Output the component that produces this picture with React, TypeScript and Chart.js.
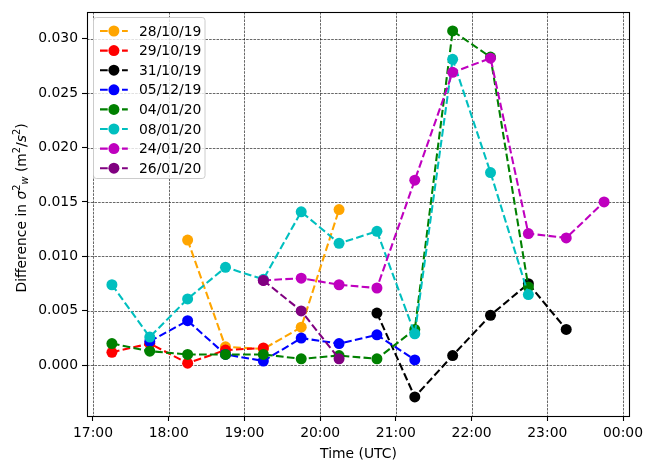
import React, { useEffect, useRef } from 'react';
import { Chart, registerables } from 'chart.js';

Chart.register(...registerables);

// Times of the measurements, in hours (UTC)
const hours = [17.25, 17.75, 18.25, 18.75, 19.25, 19.75, 20.25, 20.75, 21.25, 21.75, 22.25, 22.75, 23.25, 23.75];

const seriesLabels = ['28/10/19', '29/10/19', '31/10/19', '05/12/19', '04/01/20', '08/01/20', '24/01/20', '26/01/20'];
const seriesColors = ['#FFA500', '#FF0000', '#000000', '#0000FF', '#008000', '#00BFBF', '#BF00BF', '#800080'];

// values aligned with `hours` (null = no measurement)
const s281019 = [null, null, 0.0115, 0.0017, 0.0015, 0.0035, 0.0143, null, null, null, null, null, null, null];
const s291019 = [0.0012, 0.0020, 0.0002, 0.0014, 0.0016, null, null, null, null, null, null, null, null, null];
const s311019 = [null, null, null, null, null, null, null, 0.0048, -0.0029, 0.0009, 0.0046, 0.0075, 0.0033, null];
const s051219 = [null, 0.0022, 0.0041, 0.0010, 0.0004, 0.0025, 0.0020, 0.0028, 0.0005, null, null, null, null, null];
const s040120 = [0.0020, 0.0013, 0.0010, 0.0010, 0.0010, 0.0006, 0.0009, 0.0006, 0.0033, 0.0307, 0.0283, 0.0072, null, null];
const s080120 = [0.0074, 0.0026, 0.0061, 0.0090, 0.0079, 0.0141, 0.0112, 0.0123, 0.0029, 0.0281, 0.0177, 0.0065, null, null];
const s240120 = [null, null, null, null, 0.0078, 0.0080, 0.0074, 0.0071, 0.0170, 0.0269, 0.0282, 0.0121, 0.0117, 0.0150];
const s260120 = [null, null, null, null, 0.0078, 0.0050, 0.0006, null, null, null, null, null, null, null];

const seriesValues = [s281019, s291019, s311019, s051219, s040120, s080120, s240120, s260120];

const xTickValues = [17, 18, 19, 20, 21, 22, 23, 24];
const xTickLabels = ['17:00', '18:00', '19:00', '20:00', '21:00', '22:00', '23:00', '00:00'];
const yTickValues = [0, 0.005, 0.01, 0.015, 0.02, 0.025, 0.03];
const yTickLabels = ['0.000', '0.005', '0.010', '0.015', '0.020', '0.025', '0.030'];

const FONT = '"DejaVu Sans"';
const FS = 13.9;
const LW = 2.08;
const DASH = [7.7, 3.3];

const overlay = {
  id: 'mplOverlay',
  beforeDatasetsDraw(chart: any) {
    const { ctx, chartArea: a, scales } = chart;
    const xs = scales.x, ys = scales.y;
    ctx.save();
    ctx.strokeStyle = 'rgba(0,0,0,0.85)';
    ctx.lineWidth = 0.7;
    ctx.setLineDash([2.6, 1.1]);
    for (const v of xTickValues) {
      const px = Math.round(xs.getPixelForValue(v)) + 0.5;
      ctx.beginPath();
      ctx.moveTo(px, a.top);
      ctx.lineTo(px, a.bottom);
      ctx.stroke();
    }
    for (const v of yTickValues) {
      const py = Math.round(ys.getPixelForValue(v)) + 0.5;
      ctx.beginPath();
      ctx.moveTo(a.left, py);
      ctx.lineTo(a.right, py);
      ctx.stroke();
    }
    ctx.restore();
  },
  afterDatasetsDraw(chart: any) {
    const { ctx, chartArea: a } = chart;
    ctx.save();
    // frame
    ctx.strokeStyle = '#000';
    ctx.lineWidth = 1.1;
    ctx.setLineDash([]);
    ctx.strokeRect(a.left + 0.5, a.top + 0.5, a.right - a.left, a.bottom - a.top);

    // legend
    const bx = 93.5, by = 17.5, bw = 111.5, bh = 161;
    const r = 2.8;
    ctx.beginPath();
    ctx.moveTo(bx + r, by);
    ctx.lineTo(bx + bw - r, by);
    ctx.quadraticCurveTo(bx + bw, by, bx + bw, by + r);
    ctx.lineTo(bx + bw, by + bh - r);
    ctx.quadraticCurveTo(bx + bw, by + bh, bx + bw - r, by + bh);
    ctx.lineTo(bx + r, by + bh);
    ctx.quadraticCurveTo(bx, by + bh, bx, by + bh - r);
    ctx.lineTo(bx, by + r);
    ctx.quadraticCurveTo(bx, by, bx + r, by);
    ctx.closePath();
    ctx.fillStyle = 'rgba(255,255,255,0.8)';
    ctx.fill();
    ctx.strokeStyle = '#cccccc';
    ctx.lineWidth = 1;
    ctx.stroke();

    ctx.font = `${FS}px ${FONT}`;
    ctx.textBaseline = 'middle';
    ctx.textAlign = 'left';
    for (let i = 0; i < seriesLabels.length; i++) {
      const cy = 31 + i * 19.6;
      const hx0 = 100, hx1 = 127.8;
      ctx.strokeStyle = seriesColors[i];
      ctx.lineWidth = LW;
      ctx.setLineDash(DASH);
      ctx.beginPath();
      ctx.moveTo(hx0, cy);
      ctx.lineTo(hx1, cy);
      ctx.stroke();
      ctx.setLineDash([]);
      ctx.fillStyle = seriesColors[i];
      ctx.beginPath();
      ctx.arc((hx0 + hx1) / 2, cy, 5.5, 0, Math.PI * 2);
      ctx.fill();
      ctx.fillStyle = '#000';
      ctx.fillText(seriesLabels[i], 139, cy + 1);
    }

    // x title
    ctx.textAlign = 'center';
    ctx.textBaseline = 'alphabetic';
    ctx.fillText('Time (UTC)', (a.left + a.right) / 2 + 0.5, 457.5);

    // y title with super/subscripts
    const reg = `${FS}px ${FONT}`;
    const ita = `italic ${FS}px ${FONT}`;
    const sm = `${FS * 0.7}px ${FONT}`;
    const smi = `italic ${FS * 0.7}px ${FONT}`;
    const segs = [
      { t: 'Difference in ', f: reg, dy: 0 },
      { t: 'σ', f: ita, dy: 0 },
      { t: '2', f: sm, dy: -5.5 },
      { t: 'w', f: smi, dy: 2.8 },
      { t: ' (m', f: reg, dy: 0 },
      { t: '2', f: sm, dy: -5.5 },
      { t: '/', f: reg, dy: 0 },
      { t: 's', f: ita, dy: 0 },
      { t: '2', f: sm, dy: -5.5 },
      { t: ')', f: reg, dy: 0 },
    ];
    let total = 0;
    for (const s of segs) { ctx.font = s.f; total += ctx.measureText(s.t).width; }
    ctx.translate(25.5, 208);
    ctx.rotate(-Math.PI / 2);
    ctx.textAlign = 'left';
    let x = -total / 2;
    for (const s of segs) {
      ctx.font = s.f;
      ctx.fillText(s.t, x, s.dy);
      x += ctx.measureText(s.t).width;
    }
    ctx.restore();
  },
};

export default function App() {
  const ref = useRef<HTMLCanvasElement>(null);
  useEffect(() => {
    const datasets = seriesLabels.map((label, i) => ({
      label,
      data: hours
        .map((h, j) => ({ x: h, y: seriesValues[i][j] }))
        .filter((p) => p.y !== null),
      borderColor: seriesColors[i],
      backgroundColor: seriesColors[i],
      borderWidth: LW,
      borderDash: DASH,
      pointRadius: 5.5,
      pointBorderWidth: 0,
      pointBackgroundColor: seriesColors[i],
      tension: 0,
      fill: false,
      order: seriesLabels.length - i,
    }));
    const chart = new Chart(ref.current as HTMLCanvasElement, {
      type: 'line',
      data: { datasets },
      options: {
        animation: false,
        responsive: false,
        devicePixelRatio: 1,
        events: [],
        layout: { padding: { top: 12, right: 17, left: 0, bottom: 0 } },
        plugins: { legend: { display: false }, tooltip: { enabled: false } },
        scales: {
          x: {
            type: 'linear',
            min: 16.921,
            max: 24.079,
            afterBuildTicks: (s: any) => { s.ticks = xTickValues.map((v) => ({ value: v })); },
            afterFit: (s: any) => { s.height = 44; s.paddingLeft = 0; s.paddingRight = 0; },
            ticks: {
              autoSkip: false,
              maxRotation: 0,
              padding: 4,
              color: '#000',
              font: { family: 'DejaVu Sans', size: FS },
              callback: (v: any) => xTickLabels[xTickValues.indexOf(Number(v))] ?? '',
            },
            grid: { drawOnChartArea: false, drawTicks: true, tickLength: 5, tickColor: '#000', tickWidth: 1.1, tickBorderDash: [] },
            border: { display: false },
          },
          y: {
            type: 'linear',
            min: -0.00465,
            max: 0.03244,
            afterBuildTicks: (s: any) => { s.ticks = yTickValues.map((v) => ({ value: v })); },
            afterFit: (s: any) => { s.width = 87; s.paddingTop = 0; s.paddingBottom = 0; },
            ticks: {
              autoSkip: false,
              padding: 4,
              color: '#000',
              font: { family: 'DejaVu Sans', size: FS },
              callback: (v: any) => {
                const k = yTickValues.findIndex((t) => Math.abs(t - Number(v)) < 1e-9);
                return k >= 0 ? yTickLabels[k] : '';
              },
            },
            grid: { drawOnChartArea: false, drawTicks: true, tickLength: 5, tickColor: '#000', tickWidth: 1.1, tickBorderDash: [] },
            border: { display: false },
          },
        },
      },
      plugins: [overlay],
    });
    return () => chart.destroy();
  }, []);
  return (
    <div style={{ position: 'absolute', left: 0, top: 0, width: 646, height: 460, background: '#fff' }}>
      <canvas ref={ref} width={646} height={460} style={{ width: 646, height: 460, display: 'block' }} />
    </div>
  );
}
